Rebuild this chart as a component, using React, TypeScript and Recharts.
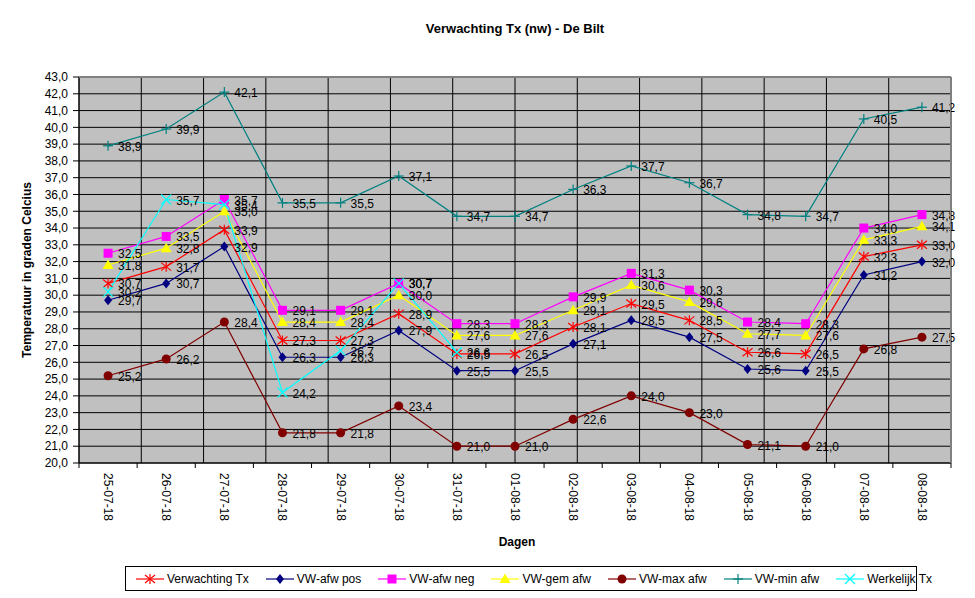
import { LineChart, Line, XAxis, YAxis, CartesianGrid, LabelList } from "recharts";

const DAYS = [
  "25-07-18", "26-07-18", "27-07-18", "28-07-18", "29-07-18", "30-07-18", "31-07-18", "01-08-18",
  "02-08-18", "03-08-18", "04-08-18", "05-08-18", "06-08-18", "07-08-18", "08-08-18",
];

const VERWACHTING = [30.7, 31.7, 33.9, 27.3, 27.3, 28.9, 26.5, 26.5, 28.1, 29.5, 28.5, 26.6, 26.5, 32.3, 33.0];
const AFW_POS = [29.7, 30.7, 32.9, 26.3, 26.3, 27.9, 25.5, 25.5, 27.1, 28.5, 27.5, 25.6, 25.5, 31.2, 32.0];
const AFW_NEG = [32.5, 33.5, 35.7, 29.1, 29.1, 30.7, 28.3, 28.3, 29.9, 31.3, 30.3, 28.4, 28.3, 34.0, 34.8];
const GEM_AFW = [31.8, 32.8, 35.0, 28.4, 28.4, 30.0, 27.6, 27.6, 29.1, 30.6, 29.6, 27.7, 27.6, 33.3, 34.1];
const MAX_AFW = [25.2, 26.2, 28.4, 21.8, 21.8, 23.4, 21.0, 21.0, 22.6, 24.0, 23.0, 21.1, 21.0, 26.8, 27.5];
const MIN_AFW = [38.9, 39.9, 42.1, 35.5, 35.5, 37.1, 34.7, 34.7, 36.3, 37.7, 36.7, 34.8, 34.7, 40.5, 41.2];
const WERKELIJK = [30.2, 35.7, 35.4, 24.2, 26.7, 30.7, 26.6, null, null, null, null, null, null, null, null];

const Y_TICKS = [20, 21, 22, 23, 24, 25, 26, 27, 28, 29, 30, 31, 32, 33, 34, 35, 36, 37, 38, 39, 40, 41, 42, 43];
// category boundaries (0 .. 15) for the vertical grid lines
const BOUNDS = [0, 1, 2, 3, 4, 5, 6, 7, 8, 9, 10, 11, 12, 13, 14, 15];

const SERIES = [
  { key: "verw", name: "Verwachting Tx", color: "#FF0000", marker: "star", values: VERWACHTING },
  { key: "pos", name: "VW-afw pos", color: "#000080", marker: "diamond", values: AFW_POS },
  { key: "neg", name: "VW-afw neg", color: "#FF00FF", marker: "square", values: AFW_NEG },
  { key: "gem", name: "VW-gem afw", color: "#FFFF00", marker: "triangle", values: GEM_AFW },
  { key: "max", name: "VW-max afw", color: "#800000", marker: "circle", values: MAX_AFW },
  { key: "min", name: "VW-min afw", color: "#008080", marker: "plus", values: MIN_AFW },
  { key: "werk", name: "Werkelijk Tx", color: "#00FFFF", marker: "cross", values: WERKELIJK },
];

const data = DAYS.map((day, i) => {
  const row: Record<string, any> = { day };
  SERIES.forEach((s) => { row[s.key] = s.values[i]; });
  return row;
});

const W = 975;
const H = 598;
const PLOT_LEFT = 79;
const PLOT_TOP = 77;
const PLOT_RIGHT = 24;
const PLOT_BOTTOM = 135;
const PLOT_W = W - PLOT_LEFT - PLOT_RIGHT;
const HALF_BAND = PLOT_W / DAYS.length / 2;
const FONT = "'Liberation Sans', Arial, sans-serif";

const fmt = (v: number) => v.toFixed(1).replace(".", ",");

function Marker({ type, color, x, y }: { type: string; color: string; x: number; y: number }) {
  switch (type) {
    case "star":
      return (
        <g stroke={color} strokeWidth={1.2}>
          <line x1={x} y1={y - 5} x2={x} y2={y + 5} />
          <line x1={x - 5} y1={y - 4} x2={x + 5} y2={y + 4} />
          <line x1={x - 5} y1={y + 4} x2={x + 5} y2={y - 4} />
        </g>
      );
    case "diamond":
      return <path d={`M${x},${y - 5}L${x + 4},${y}L${x},${y + 5}L${x - 4},${y}Z`} fill={color} />;
    case "square":
      return <rect x={x - 4.5} y={y - 4.5} width={9} height={9} fill={color} />;
    case "triangle":
      return <path d={`M${x},${y - 5.5}L${x + 5.5},${y + 4}L${x - 5.5},${y + 4}Z`} fill={color} />;
    case "circle":
      return <circle cx={x} cy={y} r={4.5} fill={color} />;
    case "plus":
      return (
        <g stroke={color} strokeWidth={1.2}>
          <line x1={x - 5} y1={y} x2={x + 5} y2={y} />
          <line x1={x} y1={y - 5} x2={x} y2={y + 5} />
        </g>
      );
    default:
      return (
        <g stroke={color} strokeWidth={1.2}>
          <line x1={x - 5} y1={y - 5} x2={x + 5} y2={y + 5} />
          <line x1={x - 5} y1={y + 5} x2={x + 5} y2={y - 5} />
        </g>
      );
  }
}

function DayTick(props: any) {
  const { x, y, payload, index } = props;
  return (
    <g>
      {index === 0 && <line x1={x - HALF_BAND} y1={y} x2={x - HALF_BAND} y2={y + 5} stroke="#000" />}
      <line x1={x + HALF_BAND} y1={y} x2={x + HALF_BAND} y2={y + 5} stroke="#000" />
      <text
        x={x}
        y={y + 10}
        transform={`rotate(90 ${x} ${y + 10})`}
        textAnchor="start"
        dominantBaseline="central"
        fontSize={12}
        fontFamily={FONT}
        fill="#000"
      >
        {payload.value}
      </text>
    </g>
  );
}

function ValueLabel(props: any) {
  const { x, y, value } = props;
  if (value == null || !Number.isFinite(x) || !Number.isFinite(y)) return null;
  return (
    <text x={x + 10} y={y + 5} fontSize={12} fontFamily={FONT} fill="#000">
      {fmt(value)}
    </text>
  );
}

export default function App() {
  return (
    <div style={{ position: "absolute", left: 0, top: 0, width: W, height: H, background: "#fff", fontFamily: FONT }}>
      <LineChart width={W} height={H} data={data} margin={{ top: PLOT_TOP, right: PLOT_RIGHT, left: 29, bottom: 55 }}>
        <CartesianGrid fill="#C0C0C0" stroke="#000" strokeOpacity={1} xAxisId="bounds" />
        <XAxis xAxisId="bounds" type="number" domain={[0, 15]} ticks={BOUNDS} interval={0} hide />
        <XAxis
          dataKey="day"
          height={80}
          interval={0}
          padding={{ left: HALF_BAND, right: HALF_BAND }}
          tickSize={0}
          tickMargin={0}
          tickLine={false}
          axisLine={{ stroke: "#000" }}
          tick={<DayTick />}
        />
        <YAxis
          width={50}
          domain={[20, 43]}
          ticks={Y_TICKS}
          interval={0}
          tickFormatter={fmt}
          tickMargin={5}
          tick={{ fontSize: 12, fontFamily: FONT, fill: "#000" }}
          tickLine={{ stroke: "#000" }}
          axisLine={{ stroke: "#000" }}
        />
        {SERIES.map((s) => (
          <Line
            key={s.key}
            dataKey={s.key}
            name={s.name}
            stroke={s.color}
            strokeWidth={1.2}
            isAnimationActive={false}
            connectNulls={false}
            dot={(p: any) =>
              !Number.isFinite(p.cy) || p.value == null ? (
                <g key={`${s.key}-${p.index}`} />
              ) : (
                <g key={`${s.key}-${p.index}`}>
                  <Marker type={s.marker} color={s.color} x={p.cx} y={p.cy} />
                </g>
              )
            }
            activeDot={false}
          >
            <LabelList dataKey={s.key} content={<ValueLabel />} />
          </Line>
        ))}
      </LineChart>

      {/* grey plot frame on top and right, as in the original */}
      <div
        style={{
          position: "absolute",
          left: PLOT_LEFT,
          top: PLOT_TOP,
          width: PLOT_W,
          height: H - PLOT_TOP - PLOT_BOTTOM,
          borderTop: "1px solid #808080",
          borderRight: "1px solid #808080",
          boxSizing: "border-box",
          pointerEvents: "none",
        }}
      />

      <div style={{ position: "absolute", left: 0, width: 1030, top: 21, textAlign: "center", fontSize: 13, fontWeight: "bold" }}>
        Verwachting Tx (nw) - De Bilt
      </div>
      <div
        style={{
          position: "absolute",
          left: 27,
          top: 270,
          transform: "translate(-50%, -50%) rotate(-90deg)",
          whiteSpace: "nowrap",
          fontSize: 12,
          fontWeight: "bold",
        }}
      >
        Temperatuur in graden Celcius
      </div>
      <div style={{ position: "absolute", left: 0, width: 1034, top: 535, textAlign: "center", fontSize: 12, fontWeight: "bold" }}>
        Dagen
      </div>

      <div
        style={{
          position: "absolute",
          left: 125,
          top: 566,
          width: 792,
          height: 25,
          border: "1px solid #000",
          boxSizing: "border-box",
          display: "flex",
          alignItems: "center",
          paddingLeft: 10,
          fontSize: 12,
          whiteSpace: "nowrap",
        }}
      >
        {SERIES.map((s) => (
          <div key={s.key} style={{ display: "flex", alignItems: "center", marginRight: 17, flexShrink: 0 }}>
            <svg width={28} height={14} style={{ marginRight: 3 }}>
              <line x1={0} y1={7} x2={28} y2={7} stroke={s.color} strokeWidth={1.2} />
              <Marker type={s.marker} color={s.color} x={14} y={7} />
            </svg>
            <span>{s.name}</span>
          </div>
        ))}
      </div>
    </div>
  );
}
